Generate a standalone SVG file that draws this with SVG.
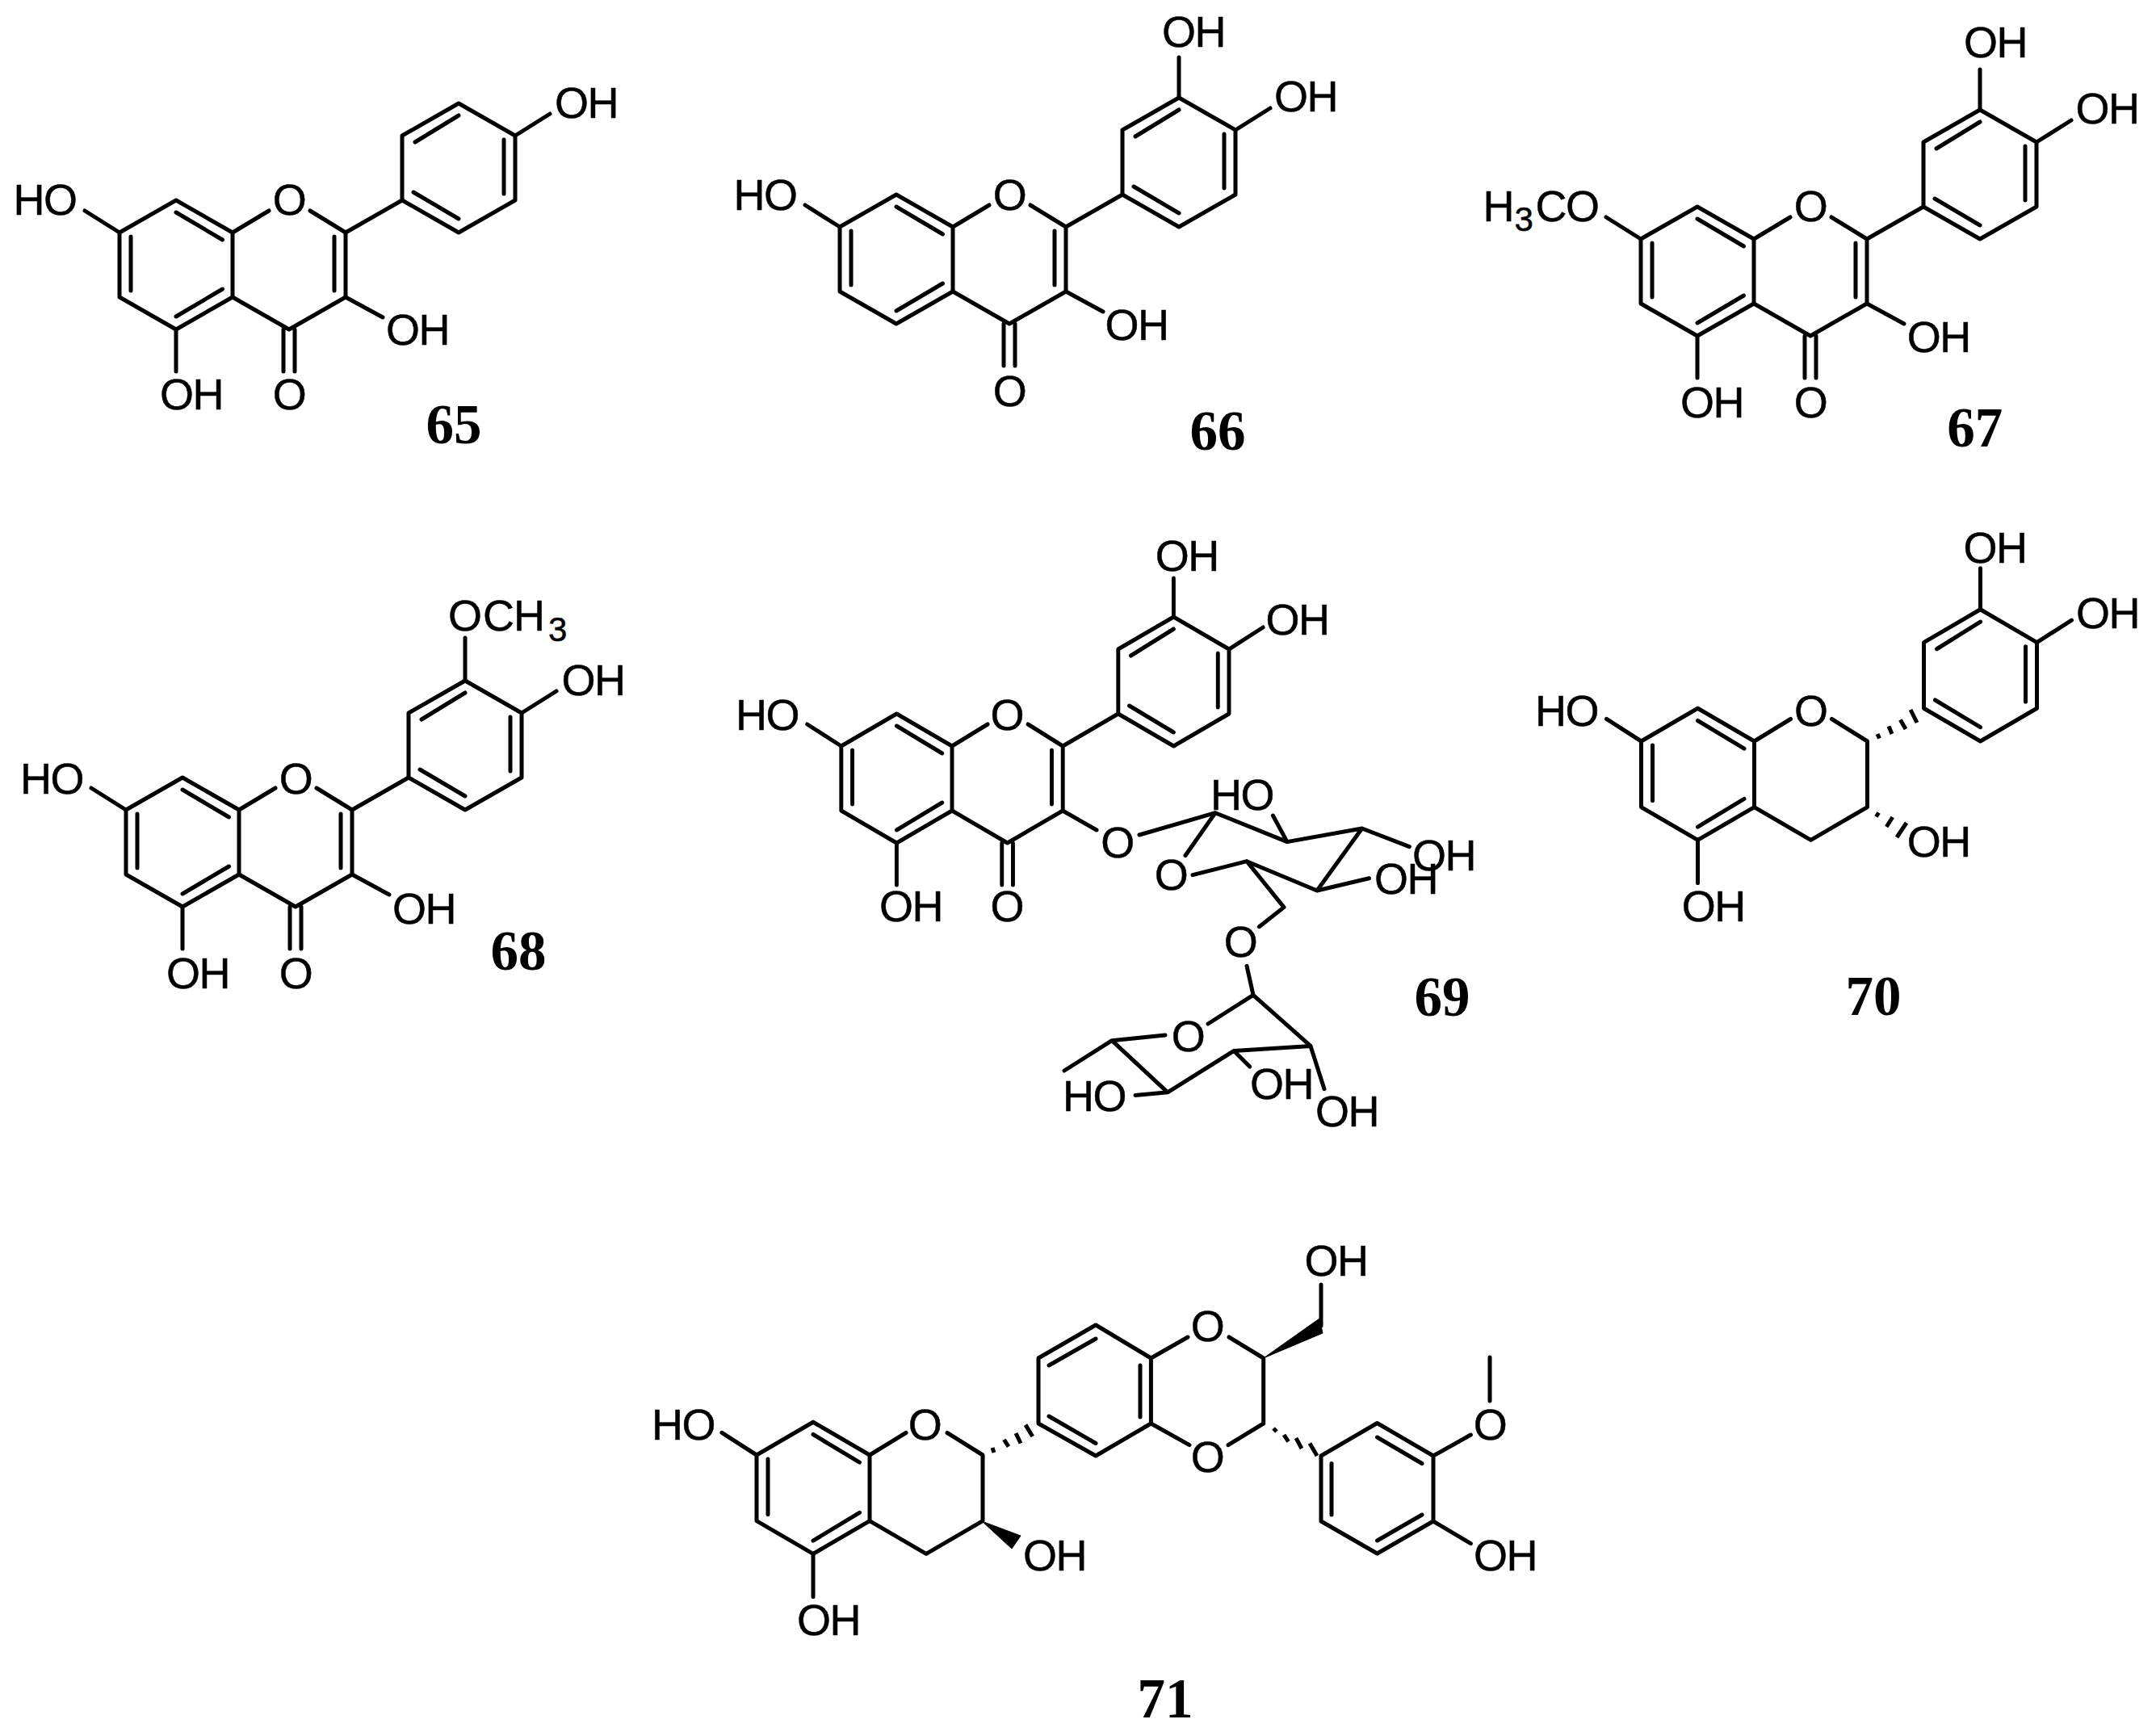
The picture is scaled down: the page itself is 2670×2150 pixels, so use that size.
<svg xmlns="http://www.w3.org/2000/svg" width="2670" height="2150" viewBox="0 0 2670 2150">
<style>
.b{fill:none;stroke:#000;stroke-width:5;stroke-linecap:round;stroke-linejoin:round}
.h{fill:none;stroke:#000;stroke-width:5;stroke-linecap:butt}
.w{fill:#000;stroke:#000;stroke-width:1;stroke-linejoin:round}
text{font-family:"Liberation Sans",Arial,sans-serif;font-size:54px;letter-spacing:-1.500px;fill:#000;stroke:#000;stroke-width:.5}
.c{text-anchor:middle}
.s{font-size:42px}
.l{font-family:"Liberation Serif","Times New Roman",serif;font-size:69px;font-weight:bold;text-anchor:middle;letter-spacing:0;stroke:none}
</style>
<defs>
<path id="ringA" class="b" d="M-140 0L-70-40L0 0V80L-70 120L-140 80Z M-126 5V72 M-70-25L-12.500 9 M-70 104L-12.500 70"/>
<path id="ringB" class="b" d="M210-40V-120L280-160L350-120V-40L280 0Z M226-112L280-145 M336-115V-48 M224-50L280-17"/>
<path id="pyranone" class="b" d="M0 0L45-27 M96-27L140 0L210-40 M140 0V80L70 120L0 80 M126 5V72 M63 120V172 M77 120V172"/>
<path id="chroman" class="b" d="M0 0L45-27 M96-27L140 0V80L70 120L0 80"/>
<path id="oh7" class="b" d="M-140 0L-183-27"/>
<path id="oh5" class="b" d="M-70 120V172"/>
<path id="oh3" class="b" d="M140 80L186 105"/>
<path id="oh4p" class="b" d="M350-120L393-147"/>
<path id="oh3p" class="b" d="M280-160V-210"/>
</defs>
<rect width="2670" height="2150" fill="#fff"/>

<g id="compound-65" transform="translate(288 288)">
<use href="#ringA"/><use href="#ringB"/><use href="#pyranone"/><use href="#oh7"/><use href="#oh5"/><use href="#oh3"/><use href="#oh4p"/>
<text x="399" y="-142">OH</text>
<text x="-271.500" y="-22">HO</text>
<text class="c" x="70" y="-22">O</text>
<text x="190" y="139">OH</text>
<text x="-90" y="219">OH</text>
<text class="c" x="70" y="219">O</text>
<text class="l" x="274" y="261">65</text>
</g>

<g id="compound-66" transform="translate(1180 281)">
<use href="#ringA"/><use href="#ringB"/><use href="#pyranone"/><use href="#oh7"/><use href="#oh3"/><use href="#oh4p"/><use href="#oh3p"/>
<text x="259" y="-223">OH</text>
<text x="398" y="-143">OH</text>
<text x="-271.500" y="-21.500">HO</text>
<text class="c" x="70" y="-21.500">O</text>
<text x="188.600" y="140">OH</text>
<text class="c" x="70" y="222">O</text>
<text class="l" x="328" y="275.500">66</text>
</g>

<g id="compound-67" transform="translate(2172 296)">
<use href="#ringA"/><use href="#ringB"/><use href="#pyranone"/><use href="#oh7"/><use href="#oh5"/><use href="#oh3"/><use href="#oh4p"/><use href="#oh3p"/>
<text x="260" y="-224.600">OH</text>
<text x="398.400" y="-143">OH</text>
<text x="-335.400" y="-22">H<tspan class="s" x="-296.500" y="-10">3</tspan><tspan x="-270.500" y="-22">CO</tspan></text>
<text class="c" x="70" y="-22">O</text>
<text x="189.700" y="139.700">OH</text>
<text x="-91" y="220.800">OH</text>
<text class="c" x="70" y="221">O</text>
<text class="l" x="273.700" y="257">67</text>
</g>

<g id="compound-68" transform="translate(296 1003)">
<use href="#ringA"/><use href="#ringB"/><use href="#pyranone"/><use href="#oh7"/><use href="#oh5"/><use href="#oh3"/><use href="#oh4p"/>
<path class="b" d="M280-160V-213"/>
<text x="259" y="-222">O<tspan x="302">C</tspan><tspan x="340">H</tspan><tspan class="s" x="383" y="-209">3</tspan></text>
<text x="399.500" y="-142">OH</text>
<text x="-271" y="-20.500">HO</text>
<text class="c" x="70" y="-20.500">O</text>
<text x="190" y="141">OH</text>
<text x="-90" y="221">OH</text>
<text class="c" x="70" y="221">O</text>
<text class="l" x="346" y="197.800">68</text>
</g>

<g id="compound-69">
<g transform="translate(1179 924) scale(.98 1)"><use href="#ringA"/><use href="#ringB"/><use href="#pyranone"/><use href="#oh7"/><use href="#oh5"/><use href="#oh4p"/><path class="b" d="M280-160V-208"/></g>
<path class="b" d="M1316 1004L1358 1028 M1411 1034L1505 1006.700L1594 1042.600L1686.700 1026L1631 1103L1544 1066.700L1477 1083.600 M1505 1006.700L1468 1059.500 M1594 1042.600L1576.400 1010 M1686.700 1026L1745.400 1048.700 M1631 1103L1695.500 1087.700 M1544 1066.700L1590 1123.600L1559.400 1147.700 M1544 1196.400L1552 1232.300L1623 1295.400L1528 1301.500L1446 1352.800L1377 1288.700L1318 1326 M1552 1232.300L1496 1268 M1377 1288.700L1443 1282 M1446 1352.800L1406 1356.400 M1528 1301.500L1547.700 1321 M1623 1295.400L1640 1348.700"/>
<text x="1430.700" y="706.700">OH</text>
<text x="1567.400" y="786">OH</text>
<text x="911" y="904">HO</text>
<text class="c" x="1246.700" y="904">O</text>
<text x="1089" y="1141">OH</text>
<text class="c" x="1246.700" y="1141">O</text>
<text class="c" x="1383.400" y="1061.500">O</text>
<text class="c" x="1450" y="1101.500">O</text>
<text x="1499" y="1003">HO</text>
<text x="1749" y="1078">OH</text>
<text x="1702" y="1106.700">OH</text>
<text class="c" x="1536" y="1184.600">O</text>
<text class="c" x="1471" y="1301.500">O</text>
<text x="1316" y="1376">HO</text>
<text x="1548" y="1360.500">OH</text>
<text x="1629" y="1395.400">OH</text>
<text class="l" x="1786" y="1258">69</text>
</g>

<g id="compound-70">
<g transform="translate(2172.500 918) scale(1 1.020)"><use href="#ringA"/><use href="#ringB"/><use href="#chroman"/><use href="#oh7"/><use href="#oh5"/><use href="#oh4p"/><use href="#oh3p"/></g>
<path class="h" d="M2325 909L2327.500 914.600 M2339 899.400L2343 909 M2353.400 891.500L2360 903 M2366 879L2374 895 M2326.600 1006.500L2323.400 1011.500 M2343.800 1012L2336.200 1024 M2361 1019L2349 1037"/>
<text x="2431.400" y="696.700">OH</text>
<text x="2571" y="778">OH</text>
<text x="1901" y="899.400">HO</text>
<text class="c" x="2242.300" y="899.400">O</text>
<text x="2361.700" y="1060.600">OH</text>
<text x="2082.700" y="1141.300">OH</text>
<text class="l" x="2320" y="1257">70</text>
</g>

<g id="compound-71">
<g transform="translate(1077 1802) scale(1 1.020)"><use href="#ringA"/><use href="#chroman"/><use href="#oh7"/><use href="#oh5"/></g>
<path class="b" d="M1286 1682L1357 1641L1425.400 1682V1763L1357 1803L1286 1763Z M1299 1691L1357 1658 M1412 1691V1755 M1299 1754L1357 1787.500 M1425.400 1682L1471 1656 M1425.400 1763L1473 1789.600 M1522 1656L1564.700 1682V1763L1521 1789.600 M1636 1642V1591 M1636 1803L1705.500 1762.500L1775 1803V1884L1705.500 1924L1636 1884Z M1705.500 1780L1761 1812.500 M1649 1812.500V1876 M1761 1876L1705.500 1908 M1775 1803L1821.400 1777 M1845 1681V1735 M1775 1884L1821.400 1911.700"/>
<polygon class="w" points="1216,1884 1264,1902 1253,1918"/>
<polygon class="w" points="1564.700,1682 1634,1633 1638,1651"/>
<path class="h" d="M1229 1793L1231 1799 M1243.500 1783L1249 1791.700 M1258 1775L1264 1787.500 M1270 1764.600L1278.700 1779 M1577 1769L1581 1773 M1590 1777L1595.500 1785.400 M1605 1781L1612 1794 M1622 1787.500L1631 1803"/>
<text x="807" y="1783">HO</text>
<text class="c" x="1145" y="1782.500">O</text>
<text x="987" y="2025">OH</text>
<text x="1267" y="1944.600">OH</text>
<text class="c" x="1495" y="1661">O</text>
<text class="c" x="1495" y="1823">O</text>
<text x="1615.500" y="1580">OH</text>
<text class="c" x="1845" y="1783">O</text>
<text x="1825" y="1944.600">OH</text>
<text class="l" x="1443" y="2127">71</text>
</g>
</svg>
